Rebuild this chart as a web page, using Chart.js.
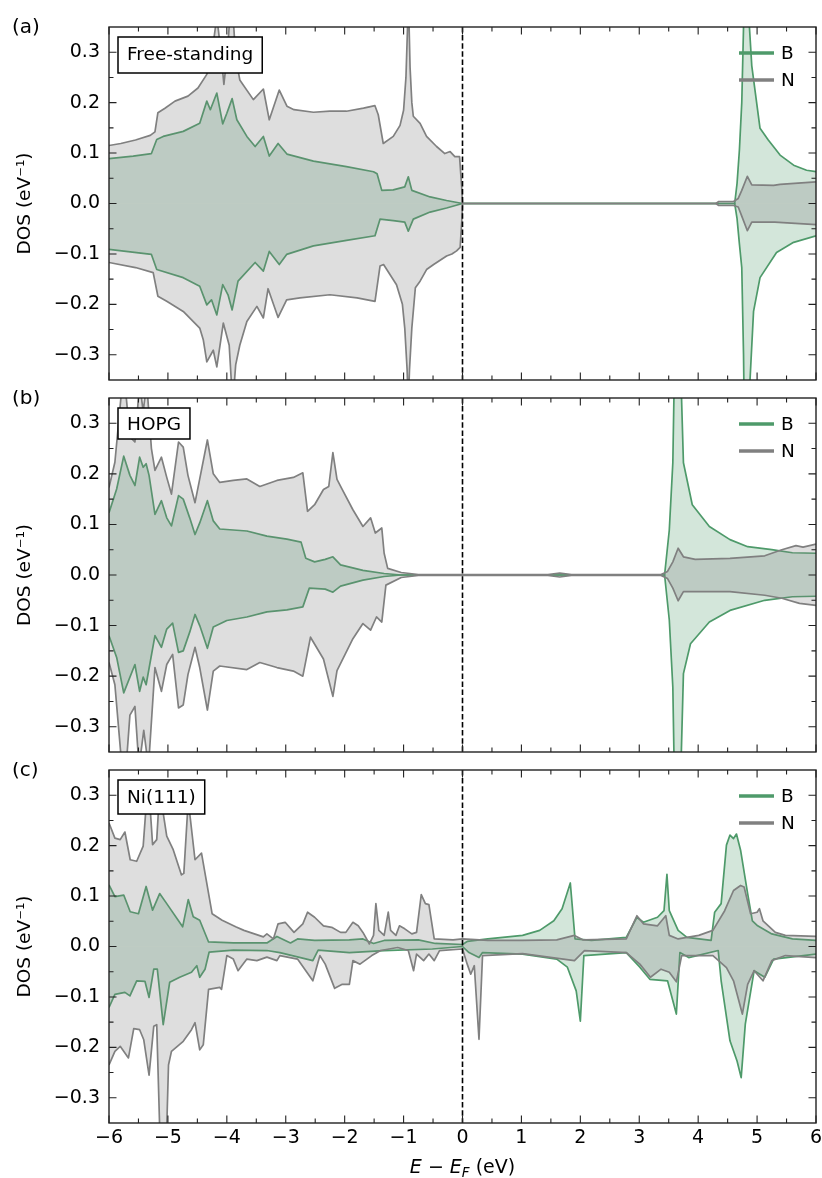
<!DOCTYPE html>
<html><head><meta charset="utf-8">
<script src="https://cdn.jsdelivr.net/npm/chart.js@4.4.1/dist/chart.umd.min.js"></script>
<style>
html,body{margin:0;padding:0;background:#fff;}
#wrap{position:relative;width:822px;height:1178px;overflow:hidden;}
canvas{position:absolute;left:0;}
</style></head><body>
<div id="wrap">
<canvas id="ca" width="822" height="390" style="top:0px"></canvas>
<canvas id="cb" width="822" height="372" style="top:390px"></canvas>
<canvas id="cc" width="822" height="416" style="top:762px"></canvas>
</div>
<script>
// ---------- labels & ticks ----------
const panelTags = ['(a)', '(b)', '(c)'];
const panelNames = ['Free-standing', 'HOPG', 'Ni(111)'];
const seriesLabels = ['B', 'N'];
const xTickVals = [-6, -5, -4, -3, -2, -1, 0, 1, 2, 3, 4, 5, 6];
const xMinorVals = [-5.5, -4.5, -3.5, -2.5, -1.5, -0.5, 0.5, 1.5, 2.5, 3.5, 4.5, 5.5];
const yTickVals = [-0.3, -0.2, -0.1, 0.0, 0.1, 0.2, 0.3];
const yMinorVals = [-0.25, -0.15, -0.05, 0.05, 0.15, 0.25];
const xRange = [-6, 6];
const yRange = [-0.35, 0.35];
const fermiLevel = 0;

// ---------- (a) Free-standing: [E, DOS] ----------
const aBup = [[-6.00,0.089],[-5.59,0.094],[-5.28,0.099],[-5.19,0.127],[-5.08,0.133],[-4.74,0.143],[-4.46,0.159],[-4.34,0.203],[-4.28,0.186],[-4.17,0.219],[-4.07,0.158],[-4.00,0.179],[-3.91,0.208],[-3.83,0.166],[-3.66,0.133],[-3.52,0.113],[-3.38,0.133],[-3.28,0.094],[-3.13,0.119],[-2.98,0.098],[-2.53,0.084],[-1.97,0.073],[-1.51,0.063],[-1.45,0.059],[-1.37,0.026],[-1.175,0.027],[-0.98,0.033],[-0.92,0.053],[-0.86,0.026],[-0.55,0.013],[-0.27,0.006],[0.00,0.000],[4.62,0.000],[4.66,0.040],[4.70,0.106],[4.74,0.200],[4.77,0.350],[4.80,0.600],[4.84,0.600],[4.87,0.350],[4.91,0.273],[5.05,0.149],[5.19,0.126],[5.39,0.096],[5.62,0.076],[5.84,0.066],[6.00,0.063]];
const aBdn = [[-6.00,-0.091],[-5.28,-0.101],[-5.19,-0.131],[-4.74,-0.147],[-4.46,-0.164],[-4.34,-0.201],[-4.26,-0.191],[-4.17,-0.221],[-4.07,-0.161],[-3.98,-0.181],[-3.91,-0.211],[-3.81,-0.154],[-3.52,-0.117],[-3.38,-0.134],[-3.28,-0.095],[-3.11,-0.121],[-2.985,-0.101],[-2.53,-0.084],[-1.97,-0.073],[-1.485,-0.064],[-1.40,-0.031],[-1.175,-0.034],[-0.98,-0.037],[-0.92,-0.055],[-0.835,-0.031],[-0.55,-0.017],[-0.27,-0.009],[0.00,0.000],[4.62,0.000],[4.66,-0.030],[4.70,-0.080],[4.74,-0.127],[4.77,-0.300],[4.80,-0.600],[4.85,-0.600],[4.88,-0.350],[4.94,-0.214],[5.05,-0.147],[5.33,-0.097],[5.62,-0.077],[6.00,-0.064]];
const aNup = [[-6.00,0.115],[-5.80,0.119],[-5.55,0.126],[-5.30,0.135],[-5.22,0.142],[-5.17,0.180],[-5.05,0.189],[-4.88,0.203],[-4.66,0.213],[-4.49,0.229],[-4.34,0.256],[-4.25,0.300],[-4.17,0.370],[-4.10,0.300],[-4.05,0.236],[-3.99,0.300],[-3.92,0.420],[-3.85,0.290],[-3.78,0.245],[-3.55,0.206],[-3.38,0.227],[-3.28,0.166],[-3.11,0.225],[-2.98,0.193],[-2.86,0.186],[-2.53,0.181],[-2.25,0.183],[-1.97,0.183],[-1.68,0.189],[-1.486,0.194],[-1.43,0.176],[-1.345,0.119],[-1.175,0.133],[-1.06,0.155],[-1.00,0.185],[-0.96,0.250],[-0.93,0.360],[-0.91,0.370],[-0.89,0.270],[-0.86,0.200],[-0.835,0.173],[-0.72,0.159],[-0.61,0.133],[-0.44,0.113],[-0.30,0.099],[-0.21,0.103],[-0.13,0.093],[-0.05,0.093],[-0.014,0.033],[0.00,0.000],[4.30,0.000],[4.35,0.004],[4.60,0.004],[4.68,0.010],[4.74,0.026],[4.835,0.054],[4.91,0.037],[5.28,0.036],[5.39,0.038],[6.00,0.043]];
const aNdn = [[-6.00,-0.117],[-5.55,-0.127],[-5.25,-0.137],[-5.17,-0.184],[-5.02,-0.194],[-4.74,-0.214],[-4.46,-0.247],[-4.40,-0.270],[-4.34,-0.314],[-4.23,-0.291],[-4.17,-0.324],[-4.06,-0.237],[-3.96,-0.281],[-3.90,-0.400],[-3.85,-0.320],[-3.78,-0.281],[-3.66,-0.234],[-3.49,-0.204],[-3.38,-0.227],[-3.30,-0.169],[-3.13,-0.226],[-2.985,-0.191],[-2.76,-0.187],[-2.25,-0.181],[-1.79,-0.187],[-1.485,-0.194],[-1.40,-0.124],[-1.34,-0.121],[-1.12,-0.161],[-1.02,-0.200],[-0.98,-0.247],[-0.94,-0.330],[-0.92,-0.400],[-0.90,-0.330],[-0.86,-0.247],[-0.80,-0.167],[-0.72,-0.154],[-0.61,-0.131],[-0.49,-0.121],[-0.27,-0.104],[-0.18,-0.100],[-0.10,-0.094],[-0.04,-0.087],[-0.01,-0.030],[0.00,0.000],[4.30,0.000],[4.35,-0.004],[4.60,-0.004],[4.68,-0.007],[4.74,-0.025],[4.835,-0.054],[4.91,-0.037],[5.30,-0.037],[6.00,-0.042]];

// ---------- (b) HOPG ----------
const bBup = [[-6.00,0.123],[-5.87,0.170],[-5.75,0.235],[-5.645,0.197],[-5.56,0.177],[-5.48,0.233],[-5.42,0.213],[-5.37,0.220],[-5.32,0.197],[-5.22,0.120],[-5.11,0.147],[-5.02,0.113],[-4.94,0.097],[-4.82,0.157],[-4.74,0.150],[-4.63,0.113],[-4.54,0.080],[-4.46,0.103],[-4.33,0.147],[-4.23,0.107],[-4.12,0.091],[-3.66,0.087],[-3.32,0.077],[-2.98,0.071],[-2.74,0.065],[-2.66,0.033],[-2.51,0.026],[-2.33,0.031],[-2.20,0.036],[-2.07,0.020],[-1.69,0.009],[-1.33,0.003],[-1.04,0.000],[3.43,0.000],[3.51,0.089],[3.57,0.222],[3.61,0.500],[3.68,0.500],[3.75,0.222],[3.90,0.139],[4.19,0.096],[4.54,0.070],[4.84,0.056],[5.25,0.050],[5.60,0.044],[6.00,0.043]];
const bBdn = [[-6.00,-0.120],[-5.87,-0.163],[-5.75,-0.233],[-5.56,-0.177],[-5.48,-0.230],[-5.42,-0.202],[-5.37,-0.217],[-5.22,-0.120],[-5.11,-0.143],[-5.02,-0.107],[-4.92,-0.095],[-4.82,-0.153],[-4.74,-0.150],[-4.63,-0.113],[-4.54,-0.078],[-4.46,-0.100],[-4.33,-0.145],[-4.23,-0.103],[-4.00,-0.090],[-3.66,-0.083],[-3.32,-0.073],[-2.98,-0.069],[-2.71,-0.063],[-2.60,-0.026],[-2.33,-0.028],[-2.20,-0.034],[-2.07,-0.022],[-1.69,-0.010],[-1.33,-0.003],[-1.04,0.000],[3.43,0.000],[3.51,-0.089],[3.57,-0.222],[3.61,-0.500],[3.68,-0.500],[3.75,-0.195],[3.87,-0.136],[4.19,-0.093],[4.54,-0.070],[5.13,-0.050],[5.60,-0.043],[6.00,-0.042]];
const bNup = [[-6.00,0.173],[-5.90,0.223],[-5.79,0.360],[-5.73,0.380],[-5.645,0.273],[-5.56,0.263],[-5.48,0.380],[-5.42,0.323],[-5.36,0.380],[-5.28,0.250],[-5.22,0.207],[-5.11,0.233],[-5.02,0.193],[-4.94,0.160],[-4.82,0.263],[-4.74,0.253],[-4.66,0.197],[-4.54,0.143],[-4.46,0.190],[-4.33,0.267],[-4.23,0.200],[-4.12,0.183],[-3.89,0.187],[-3.66,0.190],[-3.44,0.175],[-3.15,0.187],[-2.87,0.193],[-2.71,0.202],[-2.63,0.126],[-2.51,0.139],[-2.36,0.169],[-2.27,0.175],[-2.20,0.242],[-2.13,0.189],[-2.04,0.169],[-1.86,0.129],[-1.69,0.096],[-1.56,0.113],[-1.48,0.083],[-1.37,0.093],[-1.33,0.043],[-1.27,0.013],[-1.04,0.005],[-0.75,0.001],[1.45,0.001],[1.65,0.004],[1.85,0.001],[3.37,0.001],[3.48,0.007],[3.57,0.026],[3.66,0.053],[3.75,0.036],[3.95,0.031],[4.54,0.033],[5.13,0.038],[5.42,0.050],[5.66,0.058],[5.78,0.055],[6.00,0.061]];
const bNdn = [[-6.00,-0.173],[-5.90,-0.217],[-5.78,-0.380],[-5.71,-0.380],[-5.645,-0.277],[-5.56,-0.260],[-5.49,-0.380],[-5.41,-0.307],[-5.33,-0.380],[-5.22,-0.183],[-5.11,-0.230],[-5.02,-0.177],[-4.92,-0.157],[-4.82,-0.263],[-4.74,-0.257],[-4.66,-0.197],[-4.54,-0.143],[-4.46,-0.183],[-4.33,-0.267],[-4.23,-0.190],[-4.12,-0.180],[-3.66,-0.187],[-3.44,-0.173],[-3.15,-0.183],[-2.87,-0.190],[-2.71,-0.200],[-2.58,-0.123],[-2.36,-0.166],[-2.20,-0.240],[-2.13,-0.189],[-1.86,-0.126],[-1.69,-0.096],[-1.56,-0.109],[-1.46,-0.083],[-1.37,-0.093],[-1.30,-0.020],[-1.04,-0.005],[-0.75,-0.001],[1.45,-0.001],[1.65,-0.004],[1.85,-0.001],[3.37,-0.001],[3.48,-0.007],[3.57,-0.026],[3.66,-0.051],[3.75,-0.033],[4.54,-0.033],[5.13,-0.040],[5.42,-0.046],[5.72,-0.056],[6.00,-0.060]];

// ---------- (c) Ni(111) ----------
const cBup = [[-6.00,0.122],[-5.90,0.099],[-5.75,0.102],[-5.64,0.069],[-5.50,0.065],[-5.37,0.119],[-5.26,0.072],[-5.14,0.105],[-5.02,0.085],[-4.75,0.039],[-4.655,0.093],[-4.57,0.059],[-4.46,0.052],[-4.31,0.009],[-3.89,0.007],[-3.32,0.007],[-3.15,0.020],[-2.92,0.007],[-2.80,0.015],[-2.51,0.012],[-1.92,0.013],[-1.69,0.015],[-1.51,0.006],[-1.33,0.012],[-0.75,0.013],[-0.46,0.006],[0.00,0.004],[0.08,0.010],[0.43,0.015],[1.02,0.022],[1.31,0.032],[1.55,0.051],[1.69,0.075],[1.83,0.126],[1.91,0.015],[2.19,0.012],[2.78,0.018],[2.96,0.058],[3.07,0.048],[3.31,0.058],[3.42,0.071],[3.47,0.143],[3.51,0.071],[3.66,0.032],[3.81,0.018],[4.22,0.012],[4.28,0.068],[4.39,0.085],[4.48,0.201],[4.54,0.221],[4.60,0.214],[4.65,0.223],[4.72,0.191],[4.84,0.105],[4.92,0.051],[5.01,0.041],[5.25,0.025],[5.60,0.015],[6.00,0.012]];
const cBdn = [[-6.00,-0.121],[-5.90,-0.095],[-5.73,-0.091],[-5.645,-0.098],[-5.53,-0.068],[-5.39,-0.069],[-5.32,-0.101],[-5.24,-0.045],[-5.18,-0.045],[-5.08,-0.155],[-4.97,-0.071],[-4.80,-0.061],[-4.60,-0.051],[-4.51,-0.038],[-4.46,-0.061],[-4.37,-0.045],[-4.30,-0.011],[-3.89,-0.007],[-3.32,-0.008],[-3.10,-0.012],[-2.54,-0.028],[-2.45,-0.007],[-1.92,-0.012],[-1.33,-0.008],[-0.51,-0.005],[0.00,0.000],[0.11,-0.012],[0.28,-0.022],[0.34,-0.012],[1.02,-0.015],[1.60,-0.025],[1.78,-0.041],[1.93,-0.088],[2.00,-0.148],[2.06,-0.018],[2.78,-0.012],[3.01,-0.041],[3.18,-0.065],[3.48,-0.068],[3.63,-0.134],[3.69,-0.012],[3.84,-0.022],[4.34,-0.008],[4.39,-0.068],[4.54,-0.187],[4.66,-0.227],[4.73,-0.260],[4.80,-0.154],[4.95,-0.048],[5.13,-0.061],[5.28,-0.025],[6.00,-0.015]];
const cNup = [[-6.00,0.245],[-5.90,0.215],[-5.81,0.212],[-5.73,0.227],[-5.64,0.172],[-5.53,0.169],[-5.42,0.199],[-5.35,0.310],[-5.31,0.290],[-5.26,0.202],[-5.19,0.212],[-5.14,0.310],[-5.02,0.219],[-4.91,0.192],[-4.77,0.142],[-4.73,0.145],[-4.655,0.290],[-4.54,0.172],[-4.43,0.185],[-4.34,0.125],[-4.25,0.065],[-4.08,0.052],[-3.85,0.039],[-3.71,0.032],[-3.38,0.019],[-3.32,0.025],[-3.21,0.015],[-3.13,0.045],[-3.01,0.048],[-2.86,0.028],[-2.71,0.045],[-2.63,0.068],[-2.51,0.058],[-2.36,0.041],[-2.22,0.038],[-2.07,0.028],[-1.98,0.028],[-1.86,0.048],[-1.77,0.041],[-1.69,0.028],[-1.58,0.005],[-1.51,0.022],[-1.47,0.085],[-1.42,0.032],[-1.33,0.022],[-1.26,0.068],[-1.22,0.032],[-1.13,0.022],[-1.07,0.041],[-0.98,0.035],[-0.86,0.025],[-0.78,0.028],[-0.70,0.103],[-0.63,0.085],[-0.57,0.083],[-0.48,0.015],[-0.16,0.013],[0.00,0.015],[0.43,0.012],[1.02,0.012],[1.60,0.013],[1.90,0.022],[2.05,0.013],[2.78,0.015],[2.96,0.061],[3.07,0.045],[3.31,0.041],[3.45,0.061],[3.51,0.022],[3.66,0.015],[4.01,0.022],[4.25,0.032],[4.45,0.071],[4.60,0.111],[4.72,0.121],[4.78,0.118],[4.89,0.065],[5.00,0.068],[5.04,0.075],[5.10,0.051],[5.31,0.028],[5.48,0.022],[6.00,0.020]];
const cNdn = [[-6.00,-0.235],[-5.90,-0.208],[-5.81,-0.198],[-5.67,-0.221],[-5.58,-0.163],[-5.48,-0.165],[-5.41,-0.185],[-5.32,-0.255],[-5.24,-0.158],[-5.19,-0.155],[-5.13,-0.400],[-5.03,-0.400],[-4.99,-0.235],[-4.94,-0.208],[-4.74,-0.188],[-4.60,-0.165],[-4.54,-0.151],[-4.46,-0.205],[-4.40,-0.195],[-4.31,-0.085],[-4.12,-0.081],[-4.09,-0.085],[-4.00,-0.018],[-3.89,-0.025],[-3.81,-0.048],[-3.66,-0.025],[-3.49,-0.028],[-3.32,-0.021],[-3.15,-0.028],[-3.10,-0.018],[-2.80,-0.025],[-2.54,-0.068],[-2.42,-0.018],[-2.33,-0.035],[-2.17,-0.083],[-2.04,-0.075],[-1.92,-0.075],[-1.86,-0.028],[-1.74,-0.035],[-1.54,-0.018],[-1.39,-0.008],[-1.10,-0.002],[-0.92,-0.008],[-0.83,-0.048],[-0.78,-0.015],[-0.66,-0.028],[-0.57,-0.015],[-0.48,-0.028],[-0.39,-0.008],[0.00,-0.005],[0.08,-0.035],[0.14,-0.055],[0.20,-0.038],[0.28,-0.184],[0.34,-0.018],[1.02,-0.014],[1.90,-0.028],[2.07,-0.008],[2.78,-0.012],[3.01,-0.035],[3.19,-0.061],[3.37,-0.045],[3.51,-0.051],[3.63,-0.070],[3.72,-0.018],[4.25,-0.018],[4.48,-0.042],[4.60,-0.068],[4.75,-0.134],[4.84,-0.075],[4.95,-0.048],[5.10,-0.068],[5.25,-0.028],[5.48,-0.018],[6.00,-0.022]];

// ---------- styling ----------
const FONT = "'DejaVu Sans', sans-serif";
const B_LINE = 'rgb(78,154,106)';
const B_FILL = 'rgba(78,154,106,0.25)';
const N_LINE = 'rgb(128,128,128)';
const N_FILL = 'rgba(128,128,128,0.26)';
const minus = s => s.replace('-', '\u2212');

const decor = {
  id: 'decor',
  afterDatasetsDraw(chart, args, o) {
    const {ctx, chartArea: a, scales: {x, y}} = chart;
    ctx.save();
    const xf = x.getPixelForValue(fermiLevel);
    ctx.strokeStyle = '#000'; ctx.lineWidth = 1.6; ctx.setLineDash([5.5, 2.6]);
    ctx.beginPath(); ctx.moveTo(xf, a.top); ctx.lineTo(xf, a.bottom); ctx.stroke();
    ctx.setLineDash([]);
    ctx.strokeStyle = '#222'; ctx.lineWidth = 1.1;
    const tick = (vals, len, horiz) => {
      vals.forEach(v => {
        ctx.beginPath();
        if (horiz) {
          const px = x.getPixelForValue(v);
          ctx.moveTo(px, a.bottom); ctx.lineTo(px, a.bottom - len);
          ctx.moveTo(px, a.top); ctx.lineTo(px, a.top + len);
        } else {
          const py = y.getPixelForValue(v);
          ctx.moveTo(a.left, py); ctx.lineTo(a.left + len, py);
          ctx.moveTo(a.right, py); ctx.lineTo(a.right - len, py);
        }
        ctx.stroke();
      });
    };
    tick(xTickVals, 7.5, true); tick(xMinorVals, 4.5, true);
    tick(yTickVals, 7.5, false); tick(yMinorVals, 4.5, false);
    ctx.strokeStyle = '#222'; ctx.lineWidth = 1.4;
    ctx.strokeRect(a.left, a.top, a.right - a.left, a.bottom - a.top);
    // name box
    ctx.font = '18.5px ' + FONT;
    const m = ctx.measureText(o.name);
    const asc = m.actualBoundingBoxAscent, dsc = m.actualBoundingBoxDescent;
    const bx = a.left + 9, by = a.top + 10;
    const bw = m.width + 18, bh = asc + dsc + 18;
    ctx.fillStyle = '#fff'; ctx.fillRect(bx, by, bw, bh);
    ctx.strokeStyle = '#000'; ctx.lineWidth = 1.5; ctx.strokeRect(bx, by, bw, bh);
    ctx.fillStyle = '#000'; ctx.textBaseline = 'alphabetic'; ctx.textAlign = 'left';
    ctx.fillText(o.name, bx + 9, by + 9 + asc);
    // legend
    const legendItems = [[seriesLabels[0], B_LINE], [seriesLabels[1], N_LINE]];
    legendItems.forEach((it, i) => {
      const ly = a.top + 26 + i * 27;
      ctx.strokeStyle = it[1]; ctx.lineWidth = 3.6;
      ctx.beginPath(); ctx.moveTo(a.right - 77, ly); ctx.lineTo(a.right - 42, ly); ctx.stroke();
      ctx.fillStyle = '#000'; ctx.textBaseline = 'middle';
      ctx.fillText(it[0], a.right - 35, ly + 1);
    });
    // panel tag
    ctx.font = '20px ' + FONT; ctx.textBaseline = 'middle'; ctx.textAlign = 'left';
    ctx.fillText(o.tag, 12, a.top + 1);
    // y title
    ctx.save();
    ctx.translate(25, (a.top + a.bottom) / 2); ctx.rotate(-Math.PI / 2);
    ctx.font = '18.5px ' + FONT; ctx.textAlign = 'center'; ctx.textBaseline = 'middle';
    ctx.fillText('DOS (eV\u207B\u00B9)', 0, 0);
    ctx.restore();
    // x title
    if (o.xTitle) {
      const parts = [
        {t: 'E', f: 'italic 19px ' + FONT, dy: 0},
        {t: ' \u2212 ', f: '19px ' + FONT, dy: 0},
        {t: 'E', f: 'italic 19px ' + FONT, dy: 0},
        {t: 'F', f: 'italic 13.5px ' + FONT, dy: 4},
        {t: ' (eV)', f: '19px ' + FONT, dy: 0}
      ];
      let total = 0;
      parts.forEach(p => { ctx.font = p.f; p.w = ctx.measureText(p.t).width; total += p.w; });
      let cx = (a.left + a.right) / 2 - total / 2;
      const base = chart.height - 5;
      ctx.textAlign = 'left'; ctx.textBaseline = 'alphabetic';
      parts.forEach(p => { ctx.font = p.f; ctx.fillText(p.t, cx, base + p.dy); cx += p.w; });
    }
    ctx.restore();
  }
};

function makePanel(id, idx, sets, pad, showX) {
  const mk = (label, arr, line, fillc, order) => ({
    label, data: arr.map(p => ({x: p[0], y: p[1]})),
    borderColor: line, backgroundColor: fillc, fill: 'origin',
    pointRadius: 0, borderWidth: 1.7, tension: 0, order, borderJoinStyle: 'round'
  });
  return new Chart(document.getElementById(id), {
    type: 'line',
    data: {datasets: [
      mk(seriesLabels[1], sets.nUp, N_LINE, N_FILL, 0),
      mk(seriesLabels[1], sets.nDn, N_LINE, N_FILL, 0),
      mk(seriesLabels[0], sets.bUp, B_LINE, B_FILL, 1),
      mk(seriesLabels[0], sets.bDn, B_LINE, B_FILL, 1)
    ]},
    options: {
      responsive: false, animation: false, devicePixelRatio: 1,
      layout: {padding: {left: 0, right: 6, top: pad[0], bottom: pad[1]}},
      plugins: {legend: {display: false}, tooltip: {enabled: false},
        decor: {name: panelNames[idx], tag: panelTags[idx], xTitle: showX}},
      scales: {
        x: {
          type: 'linear', min: xRange[0], max: xRange[1], display: showX,
          afterBuildTicks: s => { s.ticks = xTickVals.map(v => ({value: v})); },
          afterFit: s => { s.height = showX ? 55 : 0; s.paddingLeft = 0; s.paddingRight = 0; s.paddingTop = 0; s.paddingBottom = 0; },
          ticks: {callback: v => minus(String(v)), font: {family: FONT, size: 19}, color: '#000',
                  padding: 4, maxRotation: 0, autoSkip: false},
          grid: {display: false, drawTicks: false}, border: {display: false}
        },
        y: {
          type: 'linear', min: yRange[0], max: yRange[1],
          afterBuildTicks: s => { s.ticks = yTickVals.map(v => ({value: v})); },
          afterFit: s => { s.width = 109; s.paddingTop = 0; s.paddingBottom = 0; s.paddingLeft = 0; s.paddingRight = 0; },
          ticks: {callback: v => Math.abs(v) < 1e-9 ? '0.0' : minus(v.toFixed(1)),
                  font: {family: FONT, size: 19}, color: '#000', padding: 9},
          grid: {display: false, drawTicks: false}, border: {display: false}
        }
      }
    },
    plugins: [decor]
  });
}

makePanel('ca', 0, {nUp: aNup, nDn: aNdn, bUp: aBup, bDn: aBdn}, [27, 10], false);
makePanel('cb', 1, {nUp: bNup, nDn: bNdn, bUp: bBup, bDn: bBdn}, [8, 10], false);
makePanel('cc', 2, {nUp: cNup, nDn: cNdn, bUp: cBup, bDn: cBdn}, [8, 0], true);
</script>
</body></html>
